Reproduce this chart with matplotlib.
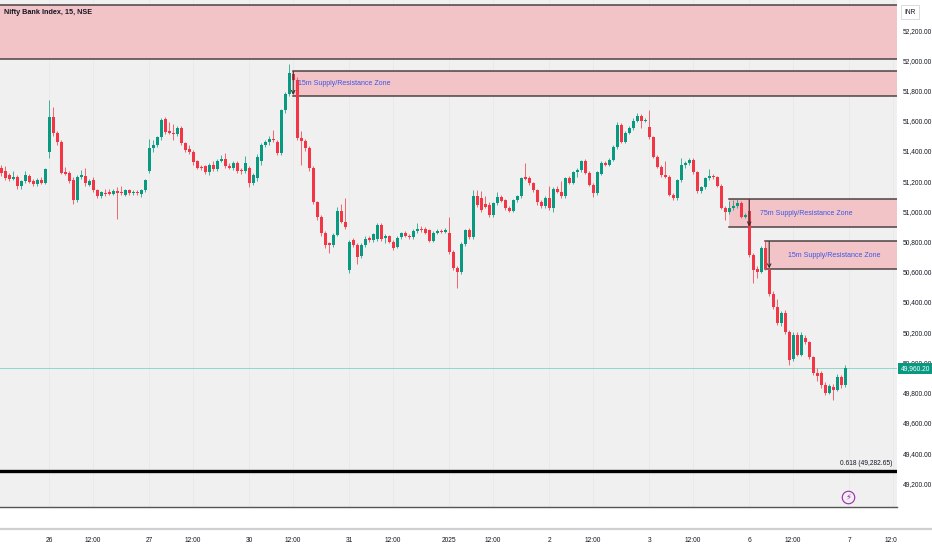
import matplotlib
matplotlib.use("Agg")
import matplotlib.pyplot as plt
from matplotlib.patches import Rectangle
from matplotlib.lines import Line2D
from matplotlib.transforms import blended_transform_factory

plt.rcParams['font.family'] = ['Liberation Sans Narrow', 'Liberation Sans', 'DejaVu Sans']

# 15m OHLC, Dec 24 (partial) .. Jan 6
opens = [
    51290, 51270, 51240, 51215, 51228, 51165, 51200, 51236, 51200, 51180, 51207, 51187,
    51390, 51625, 51518, 51460, 51262, 51255, 51210, 51075, 51228, 51235, 51175, 51210, 51140,
    51100, 51120, 51125, 51115, 51135, 51125, 51110, 51140, 51120, 51130, 51115, 51140,
    51270, 51420, 51440, 51490, 51610, 51530, 51520, 51510, 51555, 51450, 51410, 51395, 51330,
    51295, 51300, 51260, 51310, 51280, 51335, 51345, 51300, 51290, 51320, 51275, 51265,
    51285, 51190, 51220, 51330, 51440, 51460, 51480, 51460, 51385, 51670, 51780, 51910, 51870,
    51485, 51465, 51420, 51290, 51060, 50960, 50855, 50790, 50775, 50845, 51000, 50930,
    50610, 50810, 50775, 50705, 50775, 50825, 50810, 50815, 50910, 50825, 50835, 50800, 50765,
    50830, 50855, 50840, 50830, 50870, 50885, 50880, 50875, 50805, 50860, 50870, 50865,
    50860, 50730, 50625, 50600, 50785, 50875, 50830, 51100, 51090, 51050, 51040, 50975, 51055,
    51095, 51075, 51025, 51005, 51075, 51100, 51230, 51220, 51185, 51140, 51060, 51035,
    51090, 51020, 51150, 51130, 51100, 51220, 51190, 51260, 51275, 51330, 51255, 51175, 51120,
    51250, 51320, 51310, 51340, 51425, 51570, 51460, 51520, 51550, 51600, 51630, 51600,
    51560, 51490, 51360, 51295, 51240, 51230, 51110, 51090, 51205, 51305, 51320, 51340, 51260,
    51135, 51160, 51220, 51235, 51225, 51170, 51025, 50995, 51020, 51035, 51055, 50965,
    51000, 50711, 50620, 50600, 50760, 50612, 50455, 50365, 50260, 50325, 50200, 50020, 50180,
    50050, 50160, 50135, 50035, 49930, 49930, 49850, 49800, 49840, 49820, 49905, 49850,
]
highs = [
    51310, 51300, 51255, 51265, 51240, 51210, 51265, 51250, 51215, 51220, 51225, 51290,
    51740, 51690, 51530, 51475, 51295, 51270, 51225, 51240, 51275, 51290, 51215, 51225, 51150,
    51135, 51145, 51150, 51150, 51160, 51165, 51150, 51150, 51140, 51140, 51150, 51215,
    51480, 51470, 51500, 51620, 51625, 51590, 51580, 51565, 51565, 51460, 51440, 51405, 51340,
    51310, 51310, 51320, 51330, 51345, 51375, 51385, 51320, 51330, 51335, 51290, 51365,
    51300, 51255, 51380, 51450, 51475, 51500, 51537, 51475, 51680, 51790, 51975, 51935, 51890,
    51535, 51480, 51430, 51300, 51070, 50975, 50870, 50800, 50855, 51030, 51050, 51088,
    50810, 50825, 50790, 50790, 50840, 50840, 50860, 50925, 50920, 50850, 50845, 50810, 50835,
    50865, 50870, 50850, 50880, 50920, 50900, 50895, 50885, 50870, 50880, 50885, 50890,
    50962, 50745, 50640, 50800, 50885, 50890, 51140, 51140, 51135, 51100, 51060, 51065, 51130,
    51110, 51085, 51035, 51080, 51110, 51230, 51320, 51235, 51195, 51150, 51075, 51100,
    51170, 51160, 51165, 51200, 51230, 51235, 51270, 51290, 51340, 51345, 51265, 51185, 51270,
    51335, 51335, 51350, 51440, 51590, 51585, 51530, 51565, 51615, 51650, 51645, 51615,
    51670, 51500, 51370, 51305, 51330, 51240, 51120, 51215, 51350, 51330, 51355, 51350, 51270,
    51170, 51230, 51280, 51245, 51235, 51180, 51035, 51070, 51075, 51080, 51070, 50990,
    51088, 50725, 50640, 50770, 50809, 50625, 50470, 50420, 50340, 50345, 50215, 50200, 50200,
    50200, 50180, 50145, 50045, 49960, 49940, 49870, 49860, 49860, 49925, 49915, 49983,
]
lows = [
    51235, 51205, 51200, 51205, 51150, 51150, 51190, 51185, 51170, 51170, 51180, 51180,
    51355, 51500, 51440, 51245, 51240, 51190, 51050, 51065, 51215, 51170, 51165, 51130, 51090,
    51090, 51100, 51105, 51105, 50950, 51110, 51100, 51110, 51110, 51110, 51095, 51130,
    51255, 51390, 51425, 51470, 51515, 51510, 51470, 51500, 51440, 51395, 51380, 51310, 51280,
    51275, 51245, 51240, 51270, 51270, 51325, 51290, 51280, 51275, 51255, 51250, 51255,
    51160, 51175, 51200, 51310, 51425, 51440, 51460, 51375, 51370, 51650, 51765, 51860, 51470,
    51310, 51400, 51270, 51050, 50940, 50840, 50760, 50724, 50765, 50835, 50920, 50885,
    50590, 50765, 50650, 50690, 50765, 50800, 50800, 50805, 50805, 50790, 50790, 50745, 50755,
    50820, 50830, 50820, 50820, 50860, 50865, 50850, 50795, 50795, 50850, 50855, 50855,
    50715, 50615, 50490, 50585, 50770, 50815, 50820, 51030, 50995, 51020, 50965, 50965, 51045,
    51060, 51010, 50995, 50995, 51065, 51090, 51205, 51175, 51130, 51045, 51020, 51025,
    51010, 50995, 51120, 51090, 51090, 51180, 51180, 51230, 51260, 51245, 51165, 51095, 51110,
    51240, 51300, 51300, 51330, 51415, 51450, 51450, 51510, 51540, 51590, 51555, 51590,
    51480, 51350, 51285, 51230, 51220, 51100, 51075, 51075, 51195, 51290, 51310, 51250, 51120,
    51120, 51150, 51210, 51215, 51160, 51015, 50940, 50985, 51010, 51025, 50955, 50955,
    50700, 50525, 50560, 50590, 50610, 50440, 50355, 50250, 50240, 50190, 49982, 50010, 50040,
    50040, 50125, 50025, 49920, 49880, 49830, 49785, 49790, 49750, 49810, 49830, 49840,
]
closes = [
    51255, 51220, 51212, 51230, 51168, 51200, 51243, 51196, 51180, 51210, 51187, 51280,
    51625, 51518, 51460, 51255, 51250, 51200, 51075, 51225, 51238, 51185, 51200, 51140, 51100,
    51125, 51118, 51115, 51135, 51120, 51120, 51140, 51120, 51130, 51120, 51140, 51205,
    51420, 51440, 51490, 51605, 51525, 51520, 51510, 51555, 51450, 51405, 51390, 51325, 51290,
    51290, 51260, 51310, 51280, 51330, 51345, 51300, 51290, 51320, 51270, 51265, 51320,
    51185, 51240, 51360, 51440, 51460, 51480, 51470, 51385, 51670, 51780, 51915, 51870, 51485,
    51465, 51420, 51290, 51060, 50960, 50855, 50775, 50775, 50845, 51000, 50930, 50895,
    50800, 50775, 50700, 50775, 50820, 50810, 50850, 50910, 50815, 50835, 50800, 50760, 50825,
    50855, 50840, 50830, 50870, 50885, 50875, 50860, 50805, 50860, 50870, 50865, 50875,
    50730, 50625, 50600, 50785, 50875, 50830, 51100, 51040, 51010, 51030, 50975, 51055, 51095,
    51070, 51020, 51005, 51075, 51100, 51220, 51215, 51185, 51140, 51060, 51035, 51090,
    51020, 51150, 51130, 51100, 51220, 51190, 51260, 51275, 51330, 51255, 51175, 51120, 51260,
    51320, 51310, 51340, 51425, 51570, 51460, 51520, 51550, 51600, 51630, 51600, 51605,
    51490, 51360, 51295, 51240, 51230, 51110, 51090, 51205, 51305, 51320, 51340, 51260, 51135,
    51160, 51220, 51235, 51225, 51170, 51025, 50995, 51020, 51035, 51055, 50965, 50975,
    50711, 50612, 50600, 50760, 50620, 50455, 50365, 50260, 50325, 50200, 50015, 50180, 50050,
    50180, 50135, 50035, 49930, 49910, 49850, 49800, 49845, 49820, 49905, 49850, 49960.20,
]

# session tick labels (bar index -> label)
tick_pos = [12, 23, 37, 48, 62, 73, 87, 98, 112, 123, 137, 148, 162, 173, 187, 198, 212, 223]
tick_lbl = ["26", "12:00", "27", "12:00", "30", "12:00", "31", "12:00", "2025", "12:00",
            "2", "12:00", "3", "12:00", "6", "12:00", "7", "12:00"]

# drawn zones: (start bar, bottom, top, label)
zones = [
    (-5, 52008, 52366, None),
    (73, 51763, 51929, "15m Supply/Resistance Zone"),
    (182, 50896, 51082, "75m Supply/Resistance Zone"),
    (191, 50618, 50803, "15m Supply/Resistance Zone"),
]
arrows = [(73, 51925, 51770), (187, 51078, 50900), (192, 50800, 50622)]
fib_level = 49282.65
last_price = 49960.20
yticks = [49200, 49400, 49600, 49800, 50000, 50200, 50400, 50600, 50800,
          51000, 51200, 51400, 51600, 51800, 52000, 52200]

UP, DN = "#089981", "#f23645"
W, H = 932, 550
FS = 4.8

fig = plt.figure(figsize=(W / 100, H / 100), dpi=100, facecolor="white")
ax = fig.add_axes([0, 43 / H, 897 / W, 507 / H])
ax.set_facecolor("#f0f0f0")
x0, x1 = -0.3, 223.95
ax.set_xlim(x0, x1)
ax.set_ylim(49043, 52399)

for p in tick_pos:
    ax.axvline(p, color="#e8e8e8", lw=0.6, zorder=0)

# zones
for start, lo, hi, lbl in zones:
    ax.add_patch(Rectangle((start, lo), x1 - start + 1, hi - lo, facecolor="#f2c4c8",
                           edgecolor="none", zorder=1))
    ax.plot([start, x1 + 1], [hi, hi], color="#4d4343", lw=1.1, zorder=1.5)
    ax.plot([start, x1 + 1], [lo, lo], color="#4d4343", lw=1.1, zorder=1.5)

ZFS = 5.0
ax.text(74.3, 51846, zones[1][3], color="#3b55e6", fontsize=ZFS, va="center", ha="left", zorder=6)
ax.text(201.2, 50989, zones[2][3], color="#3b55e6", fontsize=ZFS, va="center", ha="center", zorder=6)
ax.text(196.8, 50711, zones[3][3], color="#3b55e6", fontsize=ZFS, va="center", ha="left", zorder=6)

# candles
n = len(closes)
for i in range(n):
    o, h, l, c = opens[i], highs[i], lows[i], closes[i]
    col = UP if c >= o else DN
    ax.plot([i, i], [l, h], color=col, lw=0.7, alpha=0.75, zorder=3, solid_capstyle="butt")
    body = max(abs(c - o), 6)
    ax.add_patch(Rectangle((i - 0.33, min(o, c)), 0.66, body, facecolor=col,
                           edgecolor="none", zorder=4))

for xa, ya, yb in arrows:
    ax.annotate("", xy=(xa, yb), xytext=(xa, ya),
                arrowprops=dict(arrowstyle="->", color="#3a3030", lw=0.8,
                                shrinkA=0, shrinkB=0, mutation_scale=6), zorder=5)

# fib line + label
ax.axhline(fib_level, color="black", lw=2.4, zorder=5)
ax.text(222.9, 49334, "0.618 (49,282.65)", fontsize=FS, color="#131722", ha="right", va="center")

# last price line + tag
ax.axhline(last_price, color="#8fd6cb", lw=0.7, zorder=2)
ytr = ax.get_yaxis_transform()
ax.text(1.004, last_price, "49,960.20", transform=ytr, color="white", fontsize=FS,
        ha="left", va="center", clip_on=False, zorder=10,
        bbox=dict(boxstyle="square,pad=0.35", fc=UP, ec="none"))

# lightning marker
ax.plot([211.7], [49109], marker="o", ms=9, mfc="none", mec="#9c27b0", mew=0.8, zorder=6)
ax.text(211.7, 49109, "\u26a1", color="#9c27b0", fontsize=6, ha="center", va="center",
        family=["DejaVu Sans"], zorder=7)

# title
ax.text(0.004, 0.976, "Nifty Bank Index, 15, NSE", transform=ax.transAxes, fontsize=5.2,
        color="#131722", fontweight="bold", ha="left", va="center", zorder=8)

# right price scale
ax.yaxis.tick_right()
ax.set_yticks(yticks)
ax.set_yticklabels([f"{v:,.2f}" for v in yticks])
ax.tick_params(axis="y", length=0, pad=4, labelsize=FS, labelcolor="#131722")
ax.set_xticks([])
for s in ["top", "left", "right"]:
    ax.spines[s].set_visible(False)
ax.spines["bottom"].set_color("#555555")
ax.spines["bottom"].set_linewidth(1.0)

fig.text(904 / W, 1 - 12 / H, "INR", fontsize=FS, color="#131722", ha="left", va="center",
         bbox=dict(boxstyle="square,pad=0.5", fc="white", ec="#d6d6d6", lw=0.6))

# time scale
fig.add_artist(Line2D([0, 1], [1 - 529 / H, 1 - 529 / H], transform=fig.transFigure,
                      color="#d0d0d0", lw=1.6))
bt = blended_transform_factory(ax.transData, fig.transFigure)
for p, lbl in zip(tick_pos, tick_lbl):
    ax.text(p, 1 - 540 / H, lbl, transform=bt, fontsize=FS, color="#131722",
            ha="center", va="center", clip_on=False)
fig.add_artist(Rectangle((897 / W, 0), 35 / W, 19 / H, transform=fig.transFigure,
                         facecolor="white", edgecolor="none", zorder=20))

fig.savefig("out.png", dpi=100, facecolor="white")
